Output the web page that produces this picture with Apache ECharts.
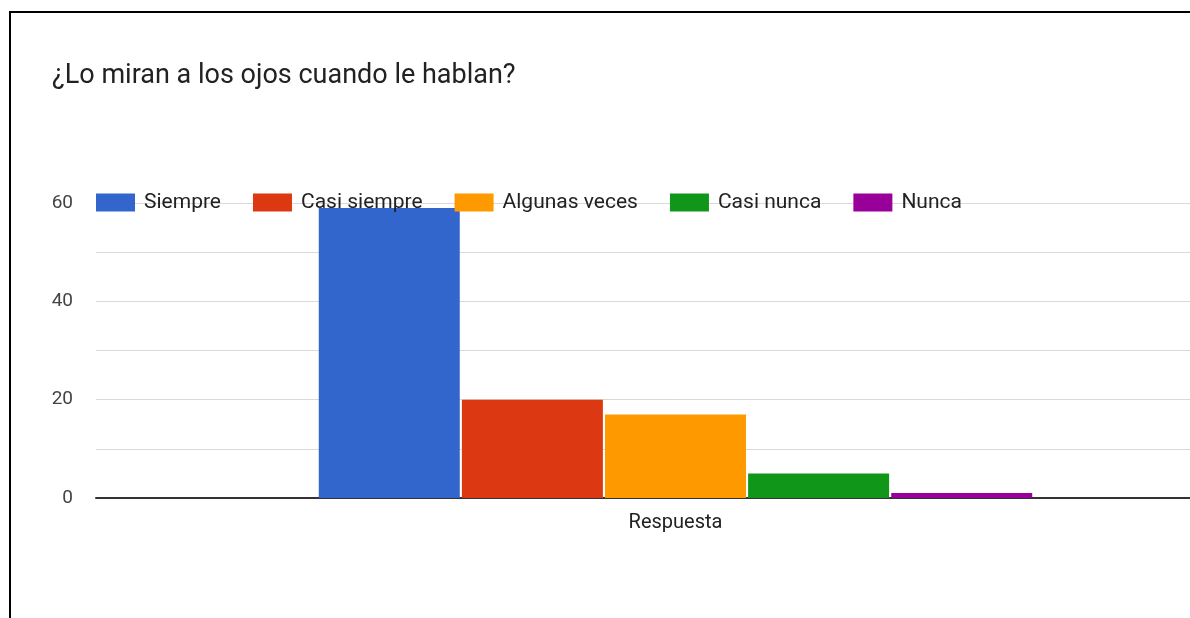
<!DOCTYPE html>
<html>
<head>
<meta charset="utf-8">
<script src="https://cdn.jsdelivr.net/npm/echarts@6/dist/echarts.min.js"></script>
<style>
  html, body { margin: 0; padding: 0; background: #fff; overflow: hidden; }
  /* the drawing is wider than the window; its right part is cut off */
  #chart { width: 1255px; height: 618px; }
</style>
</head>
<body>
<div id="chart"></div>
<script>
// Survey answers for one question, one bar per answer option
const title = '¿Lo miran a los ojos cuando le hablan?';
const categories = ['Respuesta'];
const seriesNames = ['Siempre', 'Casi siempre', 'Algunas veces', 'Casi nunca', 'Nunca'];
const seriesValues = [59, 20, 17, 5, 1];
const seriesColors = ['#3366cc', '#dc3912', '#ff9900', '#109618', '#990099'];
const yTicks = [0, 20, 40, 60];

const font = 'Roboto, "Noto Sans", sans-serif';
const chart = echarts.init(document.getElementById('chart'));

const series = seriesNames.map((name, i) => ({
  name: name,
  type: 'bar',
  data: [seriesValues[i]],
  barWidth: 141,
  barGap: '1.5%',
  itemStyle: { color: seriesColors[i] }
}));

chart.setOption({
  animation: false,
  backgroundColor: '#fff',
  title: {
    text: title,
    left: 52,
    top: 63,
    padding: 0,
    textStyle: { fontFamily: font, fontSize: 27, fontWeight: 'normal', color: '#222' }
  },
  legend: {
    left: 96,
    top: 192,
    padding: 0,
    itemWidth: 39,
    itemHeight: 18,
    itemGap: 32,
    icon: 'rect',
    textStyle: { fontFamily: font, fontSize: 21, color: '#222', padding: [0, 0, 0, 4] },
    data: seriesNames
  },
  grid: { left: 96, right: 0, top: 203, bottom: 120 },
  xAxis: {
    type: 'category',
    data: categories,
    axisLine: { lineStyle: { color: '#333', width: 2 } },
    axisTick: { show: false },
    axisLabel: { fontFamily: font, fontSize: 20, color: '#222', margin: 15 }
  },
  yAxis: {
    type: 'value',
    min: 0,
    max: 60,
    interval: 10,
    axisLine: { show: false },
    axisTick: { show: false },
    splitLine: { lineStyle: { color: '#d9d9d9', width: 1 } },
    axisLabel: {
      fontFamily: font,
      fontSize: 19,
      color: '#444',
      margin: 23,
      formatter: v => (yTicks.indexOf(v) >= 0 ? String(v) : '')
    }
  },
  graphic: [{
    type: 'rect',
    shape: { x: 10, y: 12, width: 1400, height: 800 },
    style: { fill: 'none', stroke: '#000', lineWidth: 2 },
    silent: true
  }],
  series: series
});
</script>
</body>
</html>
